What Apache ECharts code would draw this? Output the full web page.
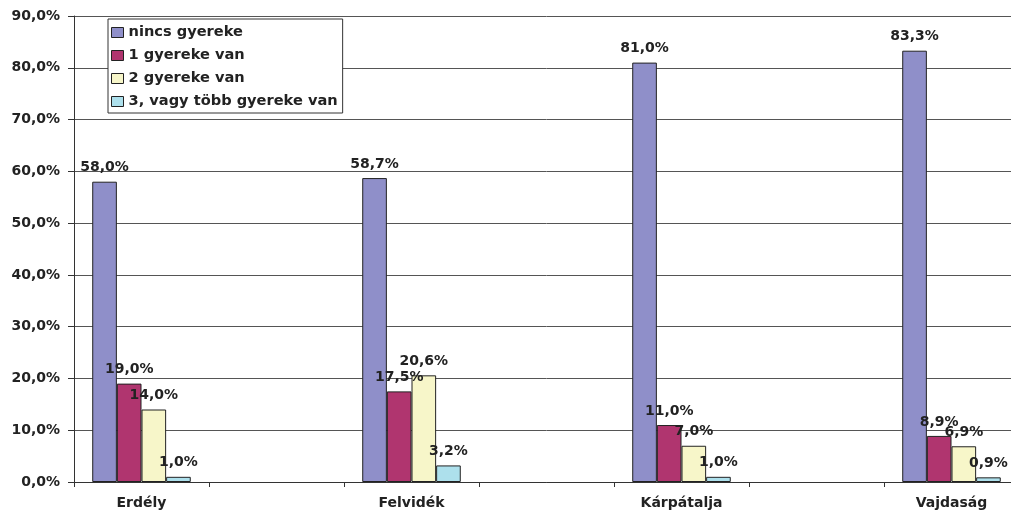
<!DOCTYPE html>
<html>
<head>
<meta charset="utf-8">
<script src="https://cdn.jsdelivr.net/npm/echarts@6/dist/echarts.min.js"></script>
<style>
html,body{margin:0;padding:0;background:#fff;overflow:hidden;}
#chart{width:1030px;height:515px;}
</style>
</head>
<body>
<div id="chart"></div>
<script>
// kategóriák, üres helyekkel a csoportok között
var categories = ['Erdély', '', 'Felvidék', '', 'Kárpátalja', '', 'Vajdaság'];
var seriesNames = ['nincs gyereke', '1 gyereke van', '2 gyereke van', '3, vagy több gyereke van'];
var nincs = [58.0, '-', 58.7, '-', 81.0, '-', 83.3];
var egy = [19.0, '-', 17.5, '-', 11.0, '-', 8.9];
var ketto = [14.0, '-', 20.6, '-', 7.0, '-', 6.9];
var harom = [1.0, '-', 3.2, '-', 1.0, '-', 0.9];
var colors = ['#8f8fc9', '#b0356f', '#f7f6c9', '#ade0ec'];

function pct(v){
	return Number(v).toFixed(1).replace('.', ',') + '%';
}

var font = 'DejaVu Sans';
var myChart = echarts.init(document.getElementById('chart'));

function makeSeries(name, data, color){
	return {
		name: name,
		type: 'bar',
		data: data,
		barGap: '0%',
		barCategoryGap: '27%',
		itemStyle: {color: color, borderColor: '#222', borderWidth: 1},
		label: {
			show: true,
			position: 'top',
			distance: 7,
			formatter: function(p){ return pct(p.value); },
			fontFamily: font,
			fontWeight: 'bold',
			fontSize: 14,
			color: '#222'
		}
	};
}

var option = {
	animation: false,
	backgroundColor: '#fff',
	grid: {left: 74, top: 16, width: 945, height: 466},
	legend: {
		orient: 'vertical',
		left: 108,
		top: 19,
		padding: [6, 5, 4, 3],
		itemGap: 8,
		itemWidth: 12,
		itemHeight: 10,
		backgroundColor: '#fff',
		borderColor: '#333',
		borderWidth: 1,
		borderRadius: 0,
		icon: 'rect',
		itemStyle: {borderColor: '#222', borderWidth: 1},
		textStyle: {fontFamily: font, fontWeight: 'bold', fontSize: 14.6, color: '#222', lineHeight: 14},
		data: seriesNames
	},
	xAxis: {
		type: 'category',
		data: categories,
		axisLine: {lineStyle: {color: '#333', width: 1}},
		axisTick: {show: true, length: 5, lineStyle: {color: '#333'}},
		axisLabel: {
			interval: 0,
			margin: 14,
			fontFamily: font,
			fontWeight: 'bold',
			fontSize: 14,
			color: '#222'
		}
	},
	yAxis: {
		type: 'value',
		min: 0,
		max: 90,
		interval: 10,
		axisLine: {show: true, lineStyle: {color: '#333', width: 1}},
		axisTick: {show: true, length: 6, lineStyle: {color: '#333'}},
		splitLine: {lineStyle: {color: '#555', width: 1}},
		axisLabel: {
			margin: 14,
			formatter: pct,
			fontFamily: font,
			fontWeight: 'bold',
			fontSize: 14,
			color: '#222'
		}
	},
	series: [
		makeSeries(seriesNames[0], nincs, colors[0]),
		makeSeries(seriesNames[1], egy, colors[1]),
		makeSeries(seriesNames[2], ketto, colors[2]),
		makeSeries(seriesNames[3], harom, colors[3])
	]
};
myChart.setOption(option);
</script>
</body>
</html>
